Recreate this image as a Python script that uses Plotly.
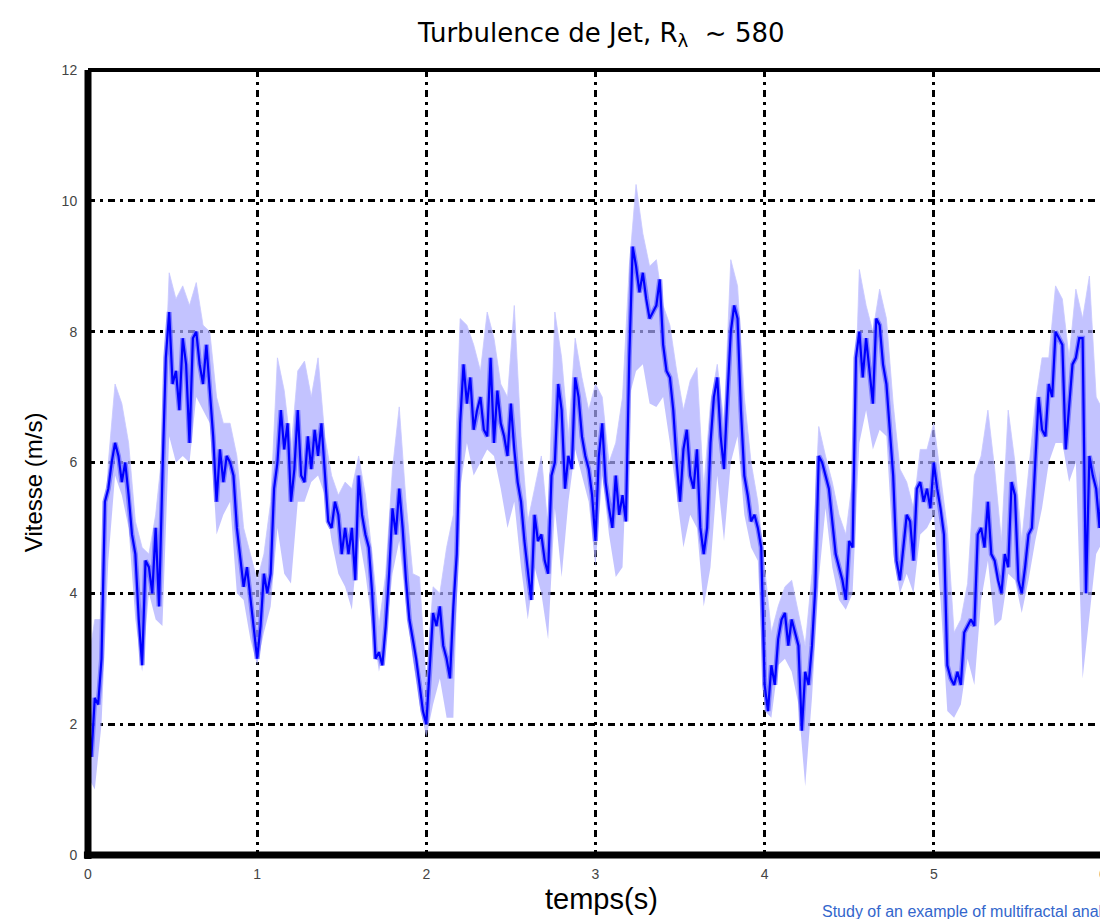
import plotly.graph_objects as go

# ---- data ----
dt_line = 0.02
v = [
    2.3, 1.5, 2.4, 2.3, 3.0,   5.4, 5.6, 6.0, 6.3, 6.1,
    5.7, 6.0, 5.5, 4.9, 4.6,   3.6, 2.9, 4.5, 4.4, 4.0,
    5.0, 3.8, 5.8, 7.6, 8.3,   7.2, 7.4, 6.8, 7.9, 7.5,
    6.3, 7.9, 8.0, 7.5, 7.2,   7.8, 7.1, 6.4, 5.4, 6.2,
    5.7, 6.1, 6.0, 5.8, 5.0,   4.5, 4.1, 4.4, 3.9, 3.4,
    3.0, 3.5, 4.3, 4.0, 4.3,   5.6, 6.0, 6.8, 6.2, 6.6,
    5.4, 5.9, 6.8, 5.8, 5.7,   6.4, 5.9, 6.5, 6.1, 6.6,
    5.9, 5.1, 5.0, 5.4, 5.2,   4.6, 5.0, 4.6, 5.0, 4.2,
    5.8, 5.2, 4.9, 4.7, 4.0,   3.0, 3.1, 2.9, 3.5, 4.3,
    5.3, 4.9, 5.6, 5.0, 4.2,   3.6, 3.3, 3.0, 2.6, 2.2,
    2.0, 2.8, 3.7, 3.5, 3.8,   3.2, 3.0, 2.7, 3.8, 4.6,
    6.6, 7.5, 6.9, 7.3, 6.5,   6.8, 7.0, 6.5, 6.4, 7.6,
    6.3, 7.1, 6.6, 6.4, 6.1,   6.9, 6.2, 5.7, 5.4, 4.8,
    4.3, 3.9, 5.2, 4.8, 4.9,   4.5, 4.3, 5.8, 6.0, 7.2,
    6.8, 5.6, 6.1, 5.9, 7.3,   7.0, 6.4, 6.1, 5.9, 5.5,
    4.8, 6.1, 6.6, 5.7, 5.3,   5.0, 5.8, 5.2, 5.5, 5.1,
    7.6, 9.3, 9.0, 8.6, 8.9,   8.5, 8.2, 8.3, 8.4, 8.8,
    7.8, 7.4, 7.3, 6.8, 6.0,   5.4, 6.2, 6.5, 5.8, 5.6,
    6.2, 5.0, 4.6, 5.0, 6.3,   7.0, 7.3, 6.4, 5.9, 7.0,
    8.0, 8.4, 8.2, 6.8, 5.8,   5.5, 5.1, 5.2, 5.0, 4.7,
    2.6, 2.2, 2.9, 2.6, 3.3,   3.6, 3.7, 3.2, 3.6, 3.4,
    3.2, 1.9, 2.8, 2.6, 3.2,   4.1, 6.1, 6.0, 5.8, 5.6,
    5.1, 4.6, 4.4, 4.2, 3.9,   4.8, 4.7, 7.6, 8.0, 7.3,
    7.9, 7.4, 6.9, 8.2, 8.1,   7.5, 7.2, 6.5, 5.8, 4.5,
    4.2, 4.7, 5.2, 5.1, 4.5,   5.6, 5.7, 5.4, 5.6, 5.3,
    6.0, 5.6, 5.3, 4.9, 2.9,   2.7, 2.6, 2.8, 2.6, 3.4,
    3.5, 3.6, 3.5, 4.9, 5.0,   4.7, 5.4, 4.6, 4.5, 4.2,
    4.0, 4.6, 4.4, 5.7, 5.5,   4.2, 4.0, 4.4, 4.9, 5.0,
    6.0, 7.0, 6.5, 6.4, 7.2,   7.0, 8.0, 7.9, 7.8, 6.2,
    6.8, 7.5, 7.6, 7.9, 7.9,   4.0, 6.1, 5.8, 5.6, 5.0,
    6.0, 5.9,
]

dt_band = 0.04
band_hi = [
    2.9, 3.6, 3.6, 6.0, 7.2, 6.9, 6.3, 5.1, 4.7, 4.6,
    5.2, 6.2, 8.9, 8.5, 8.7, 8.4, 8.75, 8.1, 8.0, 7.0,
    6.6, 6.6, 6.1, 5.0, 4.6, 4.2, 4.6, 5.4, 7.6, 7.1,
    6.2, 7.4, 7.55, 7.0, 7.6, 6.4, 5.8, 5.5, 5.7, 5.6,
    6.1, 5.5, 4.6, 3.5, 4.3, 5.9, 6.85, 5.4, 4.3, 4.25,
    2.6, 4.1, 4.0, 4.7, 5.2, 8.2, 8.1, 7.8, 7.4, 8.3,
    7.9, 7.2, 7.0, 8.4, 6.4, 5.1, 5.6, 6.1, 5.0, 8.3,
    7.6, 6.4, 7.9, 7.3, 6.8, 7.2, 7.0, 6.0, 6.3, 7.0,
    9.0, 10.25, 9.5, 9.0, 9.1, 8.4, 8.1, 7.4, 6.8, 7.25,
    7.45, 5.6, 6.9, 7.5, 6.6, 9.1, 8.7, 7.0, 6.0, 5.4,
    4.4, 3.4, 3.8, 4.1, 4.2, 3.7, 3.2, 4.3, 6.55, 6.1,
    5.7, 5.2, 4.9, 5.75, 8.95, 8.4, 8.0, 8.65, 8.2, 6.9,
    5.9, 5.7, 5.3, 6.2, 6.2, 6.6, 5.8, 5.0, 3.4, 3.6,
    4.15, 5.8, 6.1, 6.8, 5.9, 4.8, 6.8, 6.0, 4.8, 5.8,
    6.9, 7.6, 7.6, 8.7, 8.5, 7.6, 8.65, 8.2, 8.85, 7.0,
    6.8, 6.6,
]
band_lo = [
    1.2, 1.0, 2.0, 4.5, 5.8, 5.5, 5.0, 3.6, 2.8, 4.0,
    3.6, 3.5, 6.4, 6.0, 6.1, 6.0, 7.0, 6.8, 6.6, 4.9,
    5.2, 5.4, 4.0, 3.9, 3.3, 2.9, 3.4, 3.8, 5.0, 4.3,
    4.15, 5.4, 5.4, 5.7, 5.8, 5.5, 4.8, 4.3, 4.1, 3.75,
    4.9, 4.3, 3.5, 2.8, 3.3, 4.3, 4.8, 3.8, 3.0, 2.3,
    1.8, 2.3, 2.7, 2.1, 2.1, 5.6, 6.3, 5.8, 6.0, 6.2,
    6.1, 5.6, 5.0, 5.4, 4.4, 3.6, 4.4, 4.0, 3.3, 5.3,
    4.25, 5.4, 6.2, 5.8, 5.4, 4.4, 5.8, 4.9, 4.25, 4.4,
    7.0, 7.4, 7.5, 6.9, 6.85, 7.0, 6.3, 5.5, 4.7, 5.2,
    5.0, 3.8, 4.4, 5.8, 4.8, 6.0, 6.4, 5.2, 4.7, 4.5,
    2.2, 2.1, 2.9, 3.0, 2.8, 2.3, 1.05, 2.4, 4.2, 5.3,
    4.4, 3.9, 3.75, 4.0, 6.3, 6.8, 6.2, 6.5, 6.4, 4.6,
    4.0, 4.3, 4.0, 4.9, 5.0, 5.2, 3.9, 2.2, 2.1, 2.3,
    3.0, 2.6, 3.9, 4.5, 3.5, 3.6, 4.3, 4.2, 3.7, 4.2,
    4.8, 5.3, 6.0, 6.3, 6.3, 5.7, 6.0, 2.7, 3.6, 4.6,
    4.8, 5.0,
]

x_ticks = [0, 1, 2, 3, 4, 5, 6]
y_ticks = [0, 2, 4, 6, 8, 10, 12]

title_text = "Turbulence de Jet, R<sub>λ</sub>  ~ 580"
x_title = "temps(s)"
y_title = "Vitesse (m/s)"
footer_text = "Study of an example of multifractal analysis"

# ---- figure ----
t_line = [round(i * dt_line, 4) for i in range(len(v))]
t_band = [round(i * dt_band, 4) for i in range(len(band_hi))]

fig = go.Figure()
fig.add_trace(go.Scatter(x=t_band, y=band_lo, mode="lines",
                         line=dict(width=0, color="rgba(0,0,0,0)"),
                         hoverinfo="skip", showlegend=False))
fig.add_trace(go.Scatter(x=t_band, y=band_hi, mode="lines", fill="tonexty",
                         fillcolor="rgba(170,170,255,0.7)",
                         line=dict(width=1, color="rgba(200,200,255,0.8)"),
                         hoverinfo="skip", showlegend=False))
fig.add_trace(go.Scatter(x=t_line, y=v, mode="lines",
                         line=dict(width=5, color="rgba(100,100,255,0.7)"),
                         hoverinfo="skip", showlegend=False))
fig.add_trace(go.Scatter(x=t_line, y=v, mode="lines",
                         line=dict(width=2.2, color="#0000ff"),
                         showlegend=False))

grid_dash = "7px,5px,3px,5px"
tick_font = dict(family="Liberation Sans, Arial", size=14, color="#444")
fig.update_xaxes(range=[0, 6.03], tickvals=x_ticks, ticktext=[str(x) for x in x_ticks],
                 showgrid=True, gridcolor="black", gridwidth=3, griddash=grid_dash,
                 zeroline=False, showline=False,
                 ticks="outside", ticklen=6, tickcolor="rgba(0,0,0,0)",
                 tickfont=tick_font)
fig.update_yaxes(range=[0, 12], tickvals=y_ticks, ticktext=[str(y) for y in y_ticks],
                 showgrid=True, gridcolor="black", gridwidth=3, griddash=grid_dash,
                 zeroline=False, showline=False,
                 ticks="outside", ticklen=7, tickcolor="rgba(0,0,0,0)",
                 tickfont=tick_font)

# frame
fig.add_shape(type="line", xref="paper", yref="paper", x0=0, x1=0, y0=-0.005, y1=1.0,
              line=dict(color="black", width=7))
fig.add_shape(type="line", xref="paper", yref="paper", x0=-0.004, x1=1.0, y0=0, y1=0,
              line=dict(color="black", width=7))
fig.add_shape(type="line", xref="paper", yref="paper", x0=0, x1=1.0, y0=1, y1=1,
              line=dict(color="black", width=4))

fig.add_annotation(text=title_text, xref="paper", yref="paper", x=0.503, y=1.0,
                   yanchor="middle", yshift=36, showarrow=False,
                   font=dict(family="DejaVu Sans", size=26, color="black"))
fig.add_annotation(text=x_title, xref="paper", yref="paper", x=0.503, y=0,
                   yanchor="middle", yshift=-44, showarrow=False,
                   font=dict(family="Liberation Sans, Arial", size=29, color="black"))
fig.add_annotation(text=y_title, xref="paper", yref="paper", x=0, y=0.475,
                   xanchor="center", yanchor="middle",
                   xshift=-55, textangle=-90, showarrow=False,
                   font=dict(family="Liberation Sans, Arial", size=24, color="black"))
fig.add_annotation(text=footer_text, xref="paper", yref="paper", x=0.7176, y=0,
                   xanchor="left", yanchor="middle", yshift=-56, showarrow=False,
                   font=dict(family="Liberation Sans, Arial", size=16, color="#3366cc"))

# page body adds an 8px offset, so the figure is 8px smaller
fig.update_layout(width=1100, height=911,
                  margin=dict(l=80, r=0, t=62, b=64),
                  plot_bgcolor="white", paper_bgcolor="white")

fig.write_html("out.html")
